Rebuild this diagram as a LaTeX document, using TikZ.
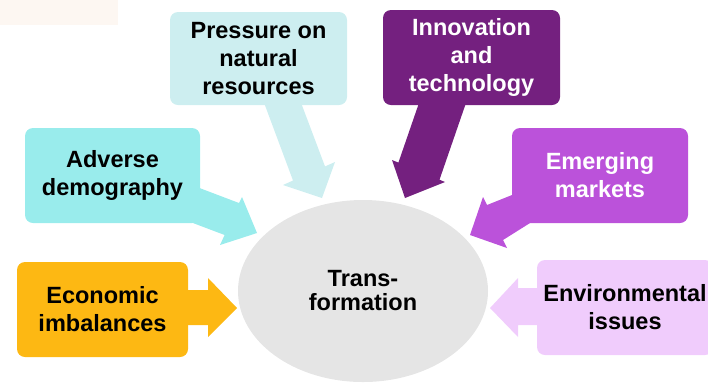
\documentclass[tikz,border=0pt]{standalone}
\usepackage{fontspec}
\setmainfont{Liberation Sans}
\usetikzlibrary{shapes.geometric}
\definecolor{cPres}{HTML}{CDEEF0}
\definecolor{cAdv}{HTML}{99ECEC}
\definecolor{cInno}{HTML}{74207F}
\definecolor{cEmer}{HTML}{BB52DA}
\definecolor{cEcon}{HTML}{FDB813}
\definecolor{cEnv}{HTML}{F0CCFC}
\definecolor{cEll}{HTML}{E5E5E5}
\definecolor{cFaint}{HTML}{FDF7F2}
\begin{document}
\begin{tikzpicture}[x=1pt,y=-1pt,
  box/.style={rectangle, rounded corners=8pt, inner sep=0pt, align=center,
    font=\bfseries\fontsize{23.5}{28}\selectfont, text=black},
  b177/.style={minimum width=177pt, minimum height=95pt}]
\useasboundingbox (0,0) rectangle (708,384);
\clip (0,0) rectangle (708,384);
% faint remnant at top left
\fill[cFaint] (0,0) rectangle (118,25);
% central ellipse
\node[ellipse, fill=cEll, minimum width=250pt, minimum height=182pt, inner sep=0pt,
  align=center, font=\bfseries\fontsize{23.5}{24}\selectfont] (trans) at (363,291)
  {Trans-\\formation};
% block arrows
\fill[cPres] (263,100) -- (293,180.5) -- (283,185) -- (322,198) -- (335,162) -- (325,166.4) -- (300,100) -- cycle;
\fill[cInno] (420,100) -- (398.4,162.6) -- (392,160) -- (405,198) -- (445,182) -- (439.5,179.7) -- (467,100) -- cycle;
\fill[cAdv] (190,184.4) -- (239,203) -- (242,197) -- (257,233) -- (220,245) -- (224.6,235) -- (190,221.9) -- cycle;
\fill[cEmer] (545,181.8) -- (487,205) -- (483,197) -- (470,235) -- (507,248) -- (503,240) -- (545,213.6) -- cycle;
\fill[cEcon] (180,290) -- (208,290) -- (208,278) -- (237,308) -- (208,337) -- (208,325) -- (180,325) -- cycle;
\fill[cEnv] (545,288) -- (518,288) -- (518,278) -- (490,308) -- (518,337) -- (518,325) -- (545,325) -- cycle;
% boxes
\node[box, fill=cPres, minimum width=177pt, minimum height=93pt] (pres) at (258.5,58.5)
  {Pressure on\\natural\\resources};
\node[box, fill=cInno, b177, text=white] (inno) at (471.5,57.5)
  {Innovation\\and\\technology};
\node[box, fill=cAdv, minimum width=175pt, minimum height=95pt] (adv) at (112.5,175.5)
  {Adverse\\demography};
\node[box, fill=cEmer, minimum width=176pt, minimum height=95pt, text=white] (emer) at (600,175.5)
  {Emerging\\markets};
\node[box, fill=cEcon, minimum width=171pt, minimum height=95pt] (econ) at (102.5,309.5)
  {Economic\\imbalances};
\node[box, fill=cEnv, minimum width=176pt, minimum height=95pt] (env) at (625,307.5)
  {Environmental\\issues};
\end{tikzpicture}
\end{document}
